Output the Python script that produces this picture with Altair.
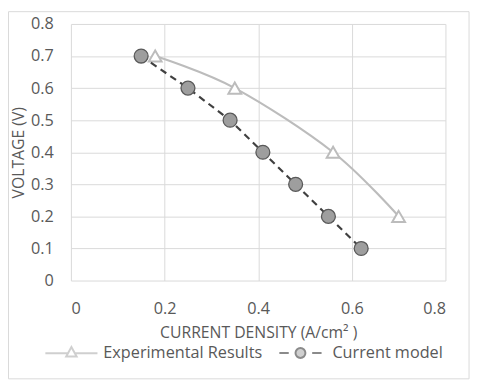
import altair as alt
import pandas as pd

# Data
exp_current = [0.18, 0.35, 0.56, 0.70]
exp_voltage = [0.70, 0.60, 0.40, 0.20]
model_current = [0.15, 0.25, 0.34, 0.41, 0.48, 0.55, 0.62]
model_voltage = [0.70, 0.60, 0.50, 0.40, 0.30, 0.20, 0.10]
series_names = ["Experimental Results", "Current model"]
x_ticks = [0, 0.2, 0.4, 0.6, 0.8]
y_ticks = [0, 0.1, 0.2, 0.3, 0.4, 0.5, 0.6, 0.7, 0.8]

FONT = "Open Sans"
FS = 16.5
FS_T = 16
TXT = "#595959"
GRID = "#d9d9d9"
EXP_C = "#bcbcbc"
MOD_LINE = "#404040"
MOD_FILL = "#9e9e9e"
MOD_STROKE = "#595959"

exp_df = pd.DataFrame({"current": exp_current, "voltage": exp_voltage})
mod_df = pd.DataFrame({"current": model_current, "voltage": model_voltage})
leg_df = pd.DataFrame({"series": series_names})

x_enc = alt.X(
    "current:Q",
    scale=alt.Scale(domain=[0, 0.8], nice=False),
    axis=alt.Axis(
        values=x_ticks, format="~g", title="CURRENT DENSITY (A/cm² )",
        labelPadding=21, titleY=58, titleBaseline="alphabetic",
    ),
)
y_enc = alt.Y(
    "voltage:Q",
    scale=alt.Scale(domain=[0, 0.8], nice=False),
    axis=alt.Axis(
        values=y_ticks, format="~g", title="VOLTAGE (V)", labelOverlap=False,
        labelPadding=18, titleX=-48, titleY=130.5, titleBaseline="alphabetic",
        titleAlign="center", titleAngle=-90,
    ),
)

exp_line = alt.Chart(exp_df).mark_line(
    interpolate="cardinal", color=EXP_C, strokeWidth=2.2
).encode(x=x_enc, y=y_enc)
exp_pts = alt.Chart(exp_df).mark_point(
    shape="triangle-up", size=170, filled=True, fill="white",
    stroke=EXP_C, strokeWidth=2, opacity=1,
).encode(x=x_enc, y=y_enc)
mod_line = alt.Chart(mod_df).mark_line(
    color=MOD_LINE, strokeWidth=2.2, strokeDash=[7, 5]
).encode(x=x_enc, y=y_enc)
mod_pts = alt.Chart(mod_df).mark_circle(
    size=200, fill=MOD_FILL, stroke=MOD_STROKE, strokeWidth=1.3, opacity=1
).encode(x=x_enc, y=y_enc)

exp_symbol = "M-1,0H-0.14M0.14,0H1M0,-0.24L0.2,0.12L-0.2,0.12Z"
mod_symbol = (
    "M-0.81,0H-0.45M0.45,0H0.81"
    "M0.19,0A0.19,0.19 0 1,1 -0.19,0A0.19,0.19 0 1,1 0.19,0Z"
)

legend_layer = alt.Chart(leg_df).transform_filter("false").mark_point(
    filled=True, strokeWidth=2
).encode(
    shape=alt.Shape(
        "series:N",
        scale=alt.Scale(domain=series_names, range=[exp_symbol, mod_symbol]),
        legend=alt.Legend(
            title=None, orient="none", direction="horizontal",
            legendX=-27, legendY=307, symbolSize=2809, symbolStrokeWidth=2,
            labelOffset=5, columnPadding=11, padding=0, labelLimit=400,
            labelFont=FONT, labelFontSize=FS, labelColor=TXT,
        ),
    ),
    fill=alt.Fill(
        "series:N",
        scale=alt.Scale(domain=series_names, range=["white", MOD_FILL]),
    ),
    stroke=alt.Stroke(
        "series:N",
        scale=alt.Scale(domain=series_names, range=[EXP_C, MOD_STROKE]),
    ),
)

border = alt.Chart(leg_df).mark_rect(
    fill=None, stroke=GRID, strokeWidth=1
).encode(
    x=alt.value(-63.5), x2=alt.value(405), y=alt.value(-12.5), y2=alt.value(361)
).transform_filter("datum.series == 'Current model'")

chart = alt.layer(
    border, exp_line, exp_pts, mod_line, mod_pts, legend_layer
).resolve_scale(
    shape="independent", fill="independent", stroke="independent"
).properties(
    width=381, height=261,
    autosize=alt.AutoSizeParams(type="none"),
    padding={"left": 64, "top": 13, "right": 27, "bottom": 102},
).configure_view(
    stroke=None
).configure_axis(
    domain=False, ticks=False, grid=True, gridColor=GRID, gridWidth=1,
    labelFont=FONT, labelFontSize=FS, labelColor=TXT,
    titleFont=FONT, titleFontSize=FS_T, titleColor=TXT, titleFontWeight="normal",
).configure_legend(
    labelFont=FONT, labelFontSize=FS, labelColor=TXT, labelLimit=400,
)

chart.save("out.html", embed_options={"renderer": "svg", "actions": False})
